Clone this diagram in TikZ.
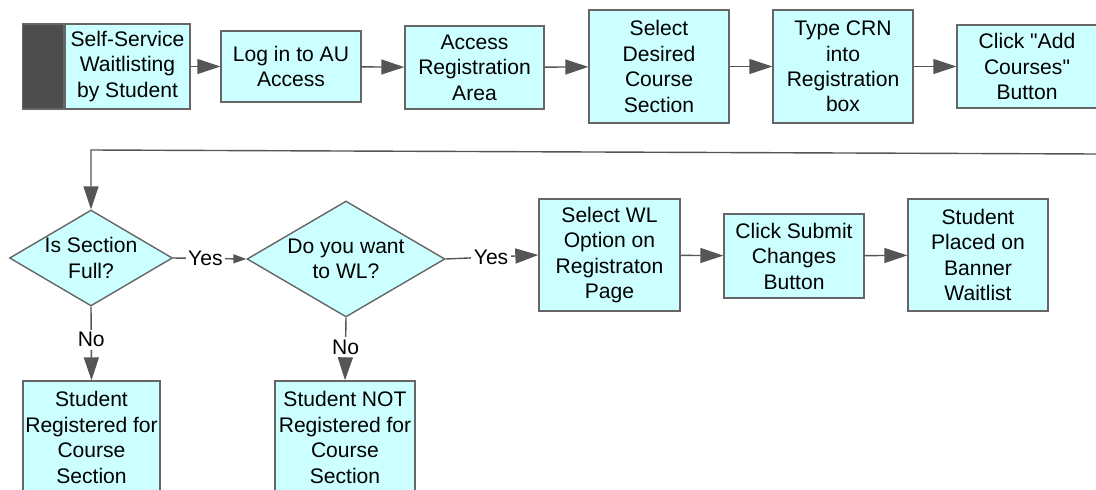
\documentclass[tikz,border=0pt]{standalone}
\usepackage{fontspec}
\setmainfont{Liberation Sans}
\usetikzlibrary{arrows.meta,shapes.geometric,positioning}
\definecolor{boxfill}{HTML}{CCFFFF}
\definecolor{boxline}{HTML}{666666}
\definecolor{arrowgray}{HTML}{555555}
\definecolor{bardark}{HTML}{4D4D4D}
\tikzset{
  stepbox/.style={draw=boxline, fill=boxfill, line width=0.8pt, align=center, inner sep=0pt,
    font=\fontsize{12}{14.5}\selectfont, minimum width=2.8cm},
  decision/.style={diamond, draw=boxline, fill=boxfill, line width=0.8pt, align=center, inner sep=0pt,
    font=\fontsize{12}{14.5}\selectfont},
  startbar/.style={draw=boxline, fill=bardark, line width=0.8pt, inner sep=0pt, minimum width=0.82cm, minimum height=1.7cm},
  flow/.style={draw=arrowgray, line width=0.8pt, -{Triangle[length=0.46cm,width=0.3cm,fill=arrowgray]}},
  smallflow/.style={draw=arrowgray, line width=0.8pt, -{Triangle[length=0.26cm,width=0.18cm,fill=arrowgray]}},
  answer/.style={fill=white, inner sep=1.5pt, font=\fontsize{12}{14.5}\selectfont}
}
\newcommand{\dline}[1]{\makebox[0pt]{#1}}
\begin{document}
\begin{tikzpicture}[x=0.02cm, y=-0.02cm]
\clip (0,0) rectangle (1096,490);
\node[stepbox, minimum width=2.5cm, minimum height=1.7cm] (start) at (127.5,66.5) {Self-Service\\Waitlisting\\by Student};
\node[startbar, left=0pt of start] (bar) {};
\node[stepbox, minimum height=1.42cm] (login) at (291,66.5) {Log in to AU\\Access};
\node[stepbox, minimum width=2.78cm, minimum height=1.66cm] (access) at (474.5,67.5) {Access\\Registration\\Area};
\node[stepbox, minimum height=2.26cm] (section) at (659,66.5) {Select\\Desired\\Course\\Section};
\node[stepbox, minimum height=2.26cm] (crn) at (843,66.5) {Type CRN\\into\\Registration\\box};
\node[stepbox, minimum height=1.66cm] (addcourses) at (1027,66.5) {Click \textquotedbl Add\\Courses\textquotedbl\\Button};
\node[decision, minimum width=3.26cm, minimum height=1.92cm] (full) at (91,258) {\dline{Is Section}\\\dline{Full?}};
\node[decision, minimum width=3.96cm, minimum height=2.32cm] (wantwl) at (346,259) {\dline{Do you want}\\\dline{to WL?}};
\node[stepbox, minimum width=2.82cm, minimum height=2.24cm] (selectwl) at (609.5,255) {Select WL\\Option on\\Registraton\\Page};
\node[stepbox, minimum height=1.68cm] (submit) at (794,256) {Click Submit\\Changes\\Button};
\node[stepbox, minimum height=2.24cm] (placed) at (978,255) {Student\\Placed on\\Banner\\Waitlist};
\node[stepbox, minimum width=2.74cm, minimum height=2.26cm] (registered) at (91.5,437.5) {Student\\Registered for\\Course\\Section};
\node[stepbox, minimum height=2.26cm] (notregistered) at (345,437.5) {Student NOT\\Registered for\\Course\\Section};
\coordinate (loopin) at (1096,154);
\coordinate (loopbend) at (full.north |- 0,150);
\draw[flow] (start) -- (login);
\draw[flow] (login) -- (access);
\draw[flow] (access) -- (section);
\draw[flow] (section) -- (crn);
\draw[flow] (crn) -- (addcourses);
\draw[flow] (loopin) -- (loopbend) -- (full.north);
\draw[smallflow] (full.east) -- node[answer, pos=0.44] {Yes} (wantwl.west);
\draw[flow] (wantwl.east) -- node[answer, pos=0.49] {Yes} (selectwl.west);
\draw[flow] (selectwl) -- (submit);
\draw[flow] (submit) -- (placed);
\draw[flow] (full.south) -- node[answer, pos=0.45] {No} (registered.north);
\draw[flow] (wantwl.south) -- node[answer, pos=0.47] {No} (notregistered.north);
\end{tikzpicture}
\end{document}
